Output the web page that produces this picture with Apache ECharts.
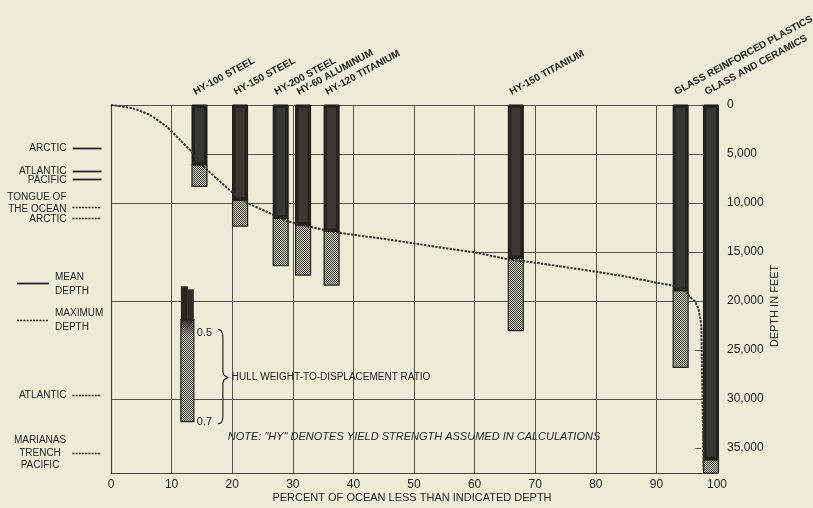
<!DOCTYPE html>
<html><head><meta charset="utf-8">
<script src="https://cdn.jsdelivr.net/npm/echarts@6/dist/echarts.min.js"></script>
<style>html,body{margin:0;padding:0;background:#eeead8}#c{width:813px;height:508px}</style>
</head><body><div id="c"></div>
<script>
// ---------------- data ----------------
const materials = ['HY-100 STEEL','HY-150 STEEL','HY-200 STEEL','HY-60 ALUMINUM','HY-120 TITANIUM','HY-150 TITANIUM','GLASS REINFORCED PLASTICS','GLASS AND CERAMICS'];
const materialPercent = [14.6, 21.3, 28.0, 31.7, 36.4, 66.8, 94.0, 99.0];
const depthAtRatio05 = [6100, 9700, 11560, 12250, 12900, 15650, 18950, 36200];
const depthAtRatio07 = [8300, 12350, 16400, 17350, 18370, 23030, 26770, 37550];

const curvePercent = [0, 3.6, 6.4, 9.2, 11.4, 13.3, 15.2, 17.4, 20.2, 22.4, 25.7, 29.0, 32.3, 36.6, 41.1, 44.4, 49.9, 55.0, 60.3, 65.6, 70.0, 80.0, 85.1, 90.0, 92.8, 95.0, 95.5, 96.4, 96.9, 97.2, 97.4, 97.5, 97.6, 97.7, 97.8];
const curveDepth   = [0, 340, 1020, 2210, 3570, 4770, 6220, 7480, 9010, 9970, 10890, 11840, 12350, 12930, 13340, 13600, 14110, 14600, 15070, 15740, 16090, 17010, 17520, 18130, 18450, 19130, 19560, 20070, 20750, 21600, 22620, 26000, 30000, 34000, 37200];

const oceanNames  = ['ARCTIC','ATLANTIC','PACIFIC','TONGUE OF\nTHE OCEAN','ARCTIC','ATLANTIC','MARIANAS\nTRENCH\nPACIFIC'];
const oceanDepths = [4390, 6700, 7580, 10380, 11560, 29590, 35540];
const oceanKinds  = ['mean','mean','mean','max','max','max','max'];

const xTickLabels = ['0','10','20','30','40','50','60','70','80','90','100'];
const yTickLabels = ['0','5,000','10,000','15,000','20,000','25,000','30,000','35,000'];

const hullRatioLabels = ['0.5','0.7'];
const hullRatioDepths = [23300, 32300];
const hullBarPercent = 12.6;
const hullBarDepths = [18500, 21900, 32300];

// ---------------- styling ----------------
const FONT = '"Liberation Sans", Arial, sans-serif';
const INK = '#24231f';
const BG = '#eeead8';
const GRIDC = '#55534b';

function makeHatch(){
  const c = document.createElement('canvas'); c.width = 4; c.height = 4;
  const g = c.getContext('2d');
  g.fillStyle = '#d8d5c6'; g.fillRect(0,0,4,4);
  g.fillStyle = '#3b3a34';
  for (let y=0;y<4;y++) for (let x=0;x<4;x++) if ((x+y)%2===0) g.fillRect(x,y,1,1);
  return c;
}
const hatch = {image: makeHatch(), repeat: 'repeat'};

const chart = echarts.init(document.getElementById('c'), null, {renderer:'canvas'});
const YMAX = 37600;

const option = {
  backgroundColor: BG,
  animation: false,
  grid: {left: 111, top: 105, width: 606, height: 368.5, containLabel: false},
  xAxis: {
    type: 'value', min: 0, max: 100, interval: 10, position: 'bottom',
    axisLine: {show: true, onZero: false, lineStyle: {color: '#44433d', width: 1.2}},
    axisTick: {show: false},
    splitLine: {show: true, lineStyle: {color: GRIDC, width: 1}},
    axisLabel: {margin: 5, fontSize: 12, fontFamily: FONT, color: INK,
      formatter: v => { const i = Math.round(v/10); return (Math.abs(v - i*10) < 1e-6 && xTickLabels[i] !== undefined) ? xTickLabels[i] : ''; }}
  },
  yAxis: [{
    type: 'value', min: 0, max: YMAX, inverse: true, interval: 5000, position: 'right',
    axisLine: {show: false}, axisTick: {show: false}, splitLine: {show: false},
    axisLabel: {margin: 10, fontSize: 12, fontFamily: FONT, color: INK,
      formatter: v => { const i = Math.round(v/5000); return (Math.abs(v - i*5000) < 1e-6 && yTickLabels[i] !== undefined) ? yTickLabels[i] : ''; }}
  },{
    type: 'value', min: 0, max: YMAX, inverse: true, interval: 10000, position: 'left',
    axisLine: {show: true, lineStyle: {color: '#44433d', width: 1.2}}, axisTick: {show: false},
    axisLabel: {show: false},
    splitLine: {show: true, lineStyle: {color: GRIDC, width: 1}}
  }],
  graphic: [
    {type:'line', shape:{x1:17,y1:283.5,x2:49,y2:283.5}, style:{stroke:INK, lineWidth:1.8}},
    {type:'text', x:55, y:284, style:{text:'MEAN\nDEPTH', fill:INK, fontSize:10, fontFamily:FONT, lineHeight:14, align:'left', verticalAlign:'middle'}},
    {type:'line', shape:{x1:17,y1:320.5,x2:49,y2:320.5}, style:{stroke:INK, lineWidth:1.6, lineDash:[2,1.2]}},
    {type:'text', x:55, y:320, style:{text:'MAXIMUM\nDEPTH', fill:INK, fontSize:10, fontFamily:FONT, lineHeight:14, align:'left', verticalAlign:'middle'}},
    {type:'text', x:412, y:498, style:{text:'PERCENT OF OCEAN LESS THAN INDICATED DEPTH', fill:INK, fontSize:11, fontFamily:FONT, align:'center', verticalAlign:'middle'}},
    {type:'text', x:775, y:306, rotation: Math.PI/2, style:{text:'DEPTH IN FEET', fill:INK, fontSize:11, fontFamily:FONT, align:'center', verticalAlign:'middle'}},
    {type:'text', x:414, y:437, style:{text:'NOTE: "HY" DENOTES YIELD STRENGTH ASSUMED IN CALCULATIONS', fill:INK, fontSize:11, fontStyle:'italic', fontFamily:FONT, align:'center', verticalAlign:'middle'}}
  ],
  series: [
    // partial grid lines
    {
      type: 'custom', z: 1, clip: false, silent: true, yAxisIndex: 0,
      data: [[14.6, 100, 5000], [60, 100, 15000], [96.4, 97.4, 25000], [96.4, 97.4, 35000]],
      renderItem: (params, api) => {
        const a = api.coord([api.value(0), api.value(2)]);
        const b = api.coord([api.value(1), api.value(2)]);
        return {type:'line', shape:{x1:a[0], y1:Math.round(a[1])+0.5, x2:b[0], y2:Math.round(b[1])+0.5}, style:{stroke:GRIDC, lineWidth:1}};
      }
    },
    // material bars
    {
      type: 'custom', z: 3, clip: false, yAxisIndex: 0,
      data: materials.map((m,i) => [materialPercent[i], depthAtRatio05[i], depthAtRatio07[i]]),
      renderItem: (params, api) => {
        const x = api.value(0);
        const p0 = api.coord([x, 0]);
        const p1 = api.coord([x, api.value(1)]);
        const p2 = api.coord([x, api.value(2)]);
        const w = 15, l = p0[0] - w/2;
        const name = materials[params.dataIndex];
        return {type:'group', children:[
          {type:'rect', shape:{x:l, y:p1[1], width:w, height:p2[1]-p1[1]}, style:{fill:hatch, stroke:'#26251f', lineWidth:1.2}},
          {type:'rect', shape:{x:l, y:p0[1], width:w, height:p1[1]-p0[1]}, style:{fill:'#25241f', stroke:'#1a1916', lineWidth:1}},
          {type:'rect', shape:{x:l+3, y:p0[1]+3, width:w-6, height:Math.max(0,p1[1]-p0[1]-6)}, style:{fill:'#3a3832'}},
          {type:'text', x:p0[0]-3, y:p0[1]-8, rotation: 28.5*Math.PI/180,
            style:{text:name, fill:INK, fontSize:10, fontWeight:'bold', fontFamily:FONT, align:'left', verticalAlign:'bottom'}}
        ]};
      }
    },
    // hull ratio legend bar
    {
      type: 'custom', z: 3, clip: false, yAxisIndex: 0,
      data: [[hullBarPercent, hullBarDepths[0]]],
      renderItem: (params, api) => {
        const xc = api.coord([hullBarPercent, 0])[0];
        const yTop = api.coord([hullBarPercent, hullBarDepths[0]])[1];
        const yFade = api.coord([hullBarPercent, hullBarDepths[1]])[1];
        const yBot = api.coord([hullBarPercent, hullBarDepths[2]])[1];
        const y05 = api.coord([hullBarPercent, hullRatioDepths[0]])[1];
        const y07 = api.coord([hullBarPercent, hullRatioDepths[1]])[1];
        const w = 13, l = xc - w/2, r = xc + w/2;
        const bx = r + 29, ym = (y05 + y07)/2;
        return {type:'group', children:[
          {type:'rect', shape:{x:l, y:yFade, width:w, height:yBot-yFade}, style:{fill:hatch, stroke:'#26251f', lineWidth:1.2}},
          {type:'rect', shape:{x:l, y:yFade-1, width:w, height:y05-yFade+4},
            style:{fill:new echarts.graphic.LinearGradient(0,0,0,1,[{offset:0,color:'rgba(37,36,31,1)'},{offset:1,color:'rgba(37,36,31,0)'}])}},
          {type:'rect', shape:{x:l, y:yTop, width:w/2+0.5, height:yFade-yTop}, style:{fill:'#25241f'}},
          {type:'rect', shape:{x:l+w/2, y:yTop+3, width:w/2, height:yFade-yTop-3}, style:{fill:'#2e2d28'}},
          {type:'text', x:r+3, y:y05, style:{text:hullRatioLabels[0], fill:INK, fontSize:11, fontFamily:FONT, align:'left', verticalAlign:'middle'}},
          {type:'text', x:r+3, y:y07, style:{text:hullRatioLabels[1], fill:INK, fontSize:11, fontFamily:FONT, align:'left', verticalAlign:'middle'}},
          {type:'polyline', shape:{points:[[bx-5,y05-4],[bx-2,y05-3],[bx-0.5,y05],[bx,y05+4],[bx,ym-6],[bx+1,ym-2.5],[bx+5,ym],[bx+1,ym+2.5],[bx,ym+6],[bx,y07-4],[bx-0.5,y07-1],[bx-2,y07+1.5],[bx-5,y07+2]]},
            style:{stroke:INK, lineWidth:1.2, fill:null}},
          {type:'text', x:bx+9, y:ym, style:{text:'HULL WEIGHT-TO-DISPLACEMENT RATIO', fill:INK, fontSize:10, fontFamily:FONT, align:'left', verticalAlign:'middle'}}
        ]};
      }
    },
    // ocean depth markers (left margin)
    {
      type: 'custom', z: 3, clip: false, yAxisIndex: 0,
      data: oceanDepths.map((d,i) => [0, d]),
      renderItem: (params, api) => {
        const p = api.coord([0, api.value(1)]);
        const i = params.dataIndex;
        const name = oceanNames[i];
        const isMax = oceanKinds[i] === 'max';
        const nLines = name.split('\n').length;
        const y = Math.round(p[1]) + 0.5;
        let txt;
        if (nLines === 3) {
          txt = {type:'text', x:p[0]-71, y:p[1]-0.5, style:{text:name, fill:INK, fontSize:10, fontFamily:FONT, lineHeight:12.5, align:'center', verticalAlign:'middle'}};
        } else if (nLines === 2) {
          txt = {type:'text', x:p[0]-44.5, y:p[1]+8, style:{text:name, fill:INK, fontSize:10, fontFamily:FONT, lineHeight:11.6, align:'right', verticalAlign:'bottom'}};
        } else {
          txt = {type:'text', x:p[0]-44.5, y:p[1]+0.5, style:{text:name, fill:INK, fontSize:10, fontFamily:FONT, align:'right', verticalAlign:'middle'}};
        }
        return {type:'group', children:[
          {type:'line', shape:{x1:p[0]-38.5, y1:y, x2:p[0]-9.5, y2:y},
            style: isMax ? {stroke:INK, lineWidth:1.4, lineDash:[2,1.2]} : {stroke:INK, lineWidth:1.8}},
          txt
        ]};
      }
    },
    // hypsometric curve
    {
      type: 'line', z: 6, yAxisIndex: 0, showSymbol: false, smooth: 0.15,
      data: curvePercent.map((p,i) => [p, curveDepth[i]]),
      lineStyle: {color: '#34332d', width: 2, type: [2.4, 1.3]}
    }
  ]
};
chart.setOption(option);
</script></body></html>
